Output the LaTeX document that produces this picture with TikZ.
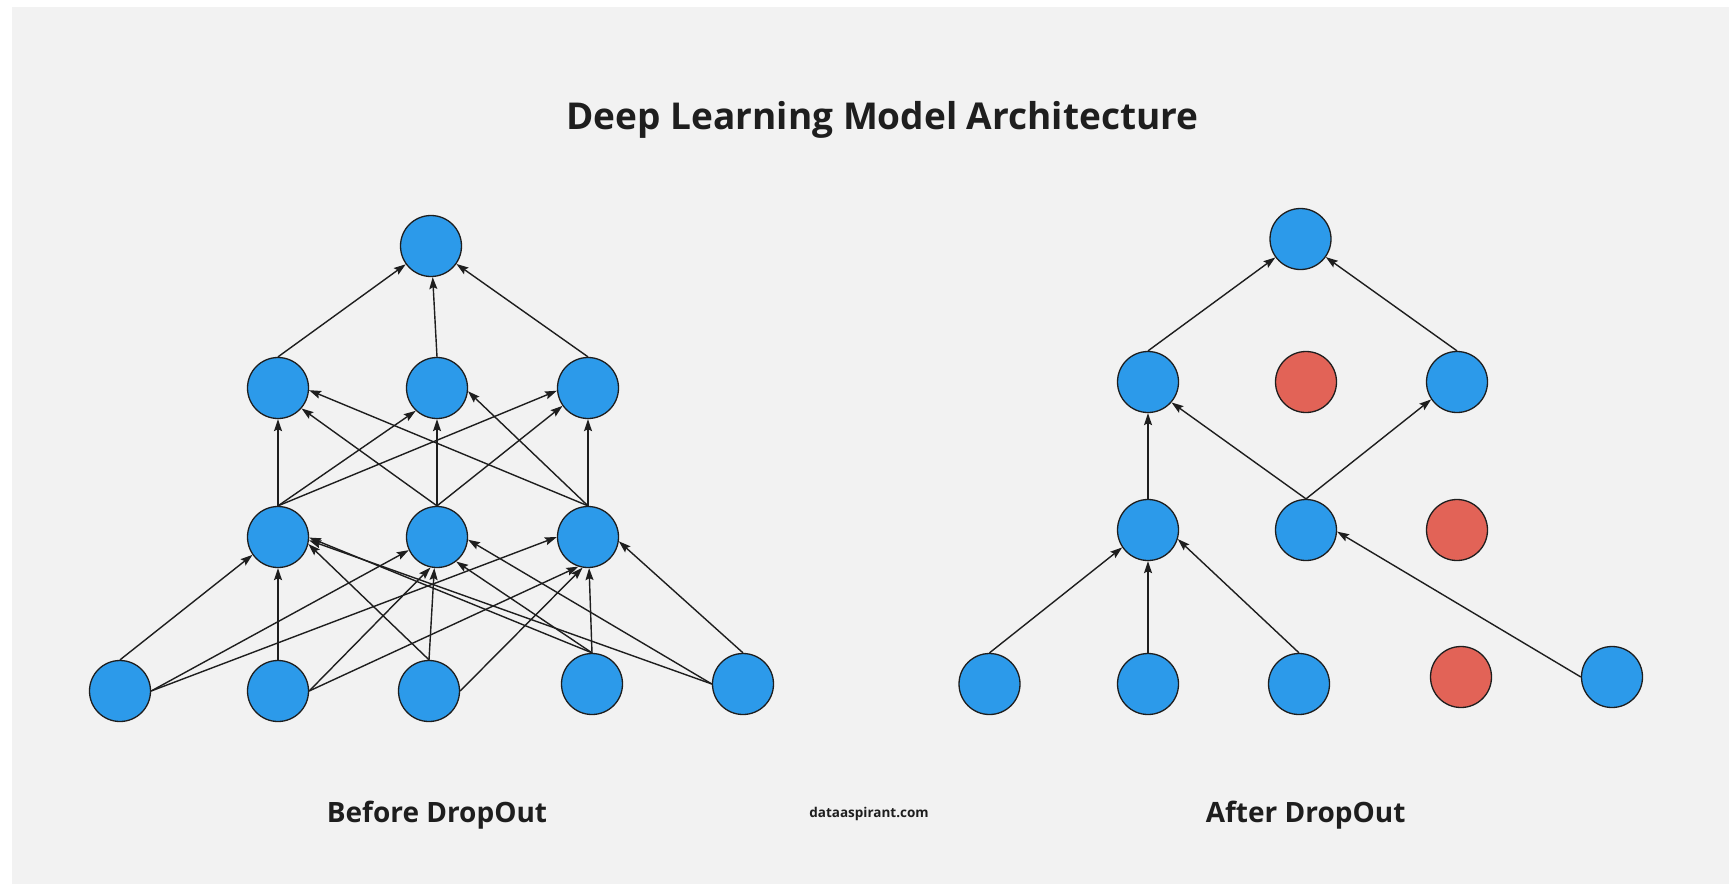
\documentclass[tikz,border=0pt]{standalone}
\usepackage{fontspec}
\setmainfont{Open Sans}
\usetikzlibrary{arrows.meta}
\definecolor{bg}{HTML}{F2F2F2}
\definecolor{nblue}{HTML}{2C9AEA}
\definecolor{nred}{HTML}{E26357}
\definecolor{ink}{HTML}{1E1E1E}
\begin{document}
\begin{tikzpicture}[x=1pt,y=-1pt,
  neuron/.style={circle, draw=ink, line width=1.3pt, fill=nblue, minimum size=61pt, inner sep=0pt},
  dropped/.style={neuron, fill=nred},
  conn/.style={draw=ink, line width=1.4pt, -{Stealth[length=12pt,width=8pt,inset=2pt]}},
  lbl/.style={font=\bfseries\fontsize{28}{32}\selectfont, text=ink, anchor=base}]
\useasboundingbox (0,0) rectangle (1729,884);
\fill[white] (0,0) rectangle (1729,884);
\fill[bg] (12,7) rectangle (1729,884);

\node[font=\bfseries\fontsize{37}{44}\selectfont, text=ink, anchor=base] (title) at (882.5,129) {Deep Learning Model Architecture};

% ---- Before dropout ----
\node[neuron] (T)  at (431,246) {};
\node[neuron] (H1) at (278,388) {};
\node[neuron] (H2) at (437,388) {};
\node[neuron] (H3) at (588,388) {};
\node[neuron] (M1) at (278,537) {};
\node[neuron] (M2) at (437,537) {};
\node[neuron] (M3) at (588,537) {};
\node[neuron] (B1) at (120,691) {};
\node[neuron] (B2) at (278,691) {};
\node[neuron] (B3) at (429,691) {};
\node[neuron] (B4) at (592,684) {};
\node[neuron] (B5) at (743,684) {};

\draw[conn] (H1.north) -- (T);
\draw[conn] (H2.north) -- (T);
\draw[conn] (H3.north) -- (T);

\draw[conn] (M1.north) -- (H1.south);
\draw[conn] (M1.north) -- (H2.227);
\draw[conn] (M1.north) -- (H3.185);
\draw[conn] (M2.north) -- (H1.-41);
\draw[conn] (M2.north) -- (H2.south);
\draw[conn] (M2.north) -- (H3.215);
\draw[conn] (M3.north) -- (H1.-4);
\draw[conn] (M3.north) -- (H2.-6);
\draw[conn] (M3.north) -- (H3.south);

\draw[conn] (B1.north) -- (M1.215);
\draw[conn] (B1.east) -- (M2.205);
\draw[conn] (B1.east) -- (M3.180);
\draw[conn] (B2.north) -- (M1.south);
\draw[conn] (B2.east) -- (M2.258);
\draw[conn] (B2.east) -- (M3.252);
\draw[conn] (B3.north) -- (M1.-13);
\draw[conn] (B3.north) -- (M2.265);
\draw[conn] (B3.east) -- (M3.260);
\draw[conn] (B4.north) -- (M1.-1);
\draw[conn] (B4.north) -- (M2.-52);
\draw[conn] (B4.north) -- (M3.-88);
\draw[conn] (B5.west) -- (M1.-6);
\draw[conn] (B5.west) -- (M2.-5);
\draw[conn] (B5.north) -- (M3.-8);

% ---- After dropout ----
\node[neuron]  (RT)  at (1300.5,239) {};
\node[neuron]  (RH1) at (1148,382) {};
\node[dropped] (RH2) at (1306,382) {};
\node[neuron]  (RH3) at (1457,382) {};
\node[neuron]  (RM1) at (1148,530) {};
\node[neuron]  (RM2) at (1306,530) {};
\node[dropped] (RM3) at (1457,530) {};
\node[neuron]  (RB1) at (989.5,684) {};
\node[neuron]  (RB2) at (1148,684) {};
\node[neuron]  (RB3) at (1299,684) {};
\node[dropped] (RB4) at (1461,677) {};
\node[neuron]  (RB5) at (1612,677) {};

\draw[conn] (RH1.north) -- (RT);
\draw[conn] (RH3.north) -- (RT);
\draw[conn] (RM1.north) -- (RH1.south);
\draw[conn] (RM2.north) -- (RH1.-41);
\draw[conn] (RM2.north) -- (RH3.214);
\draw[conn] (RB1.north) -- (RM1.214);
\draw[conn] (RB2.north) -- (RM1.south);
\draw[conn] (RB3.north) -- (RM1.-17);
\draw[conn] (RB5.west) -- (RM2.-3);

\node[lbl] (before) at (437,822.7) {Before DropOut};
\node[lbl] (after) at (1305.6,822.7) {After DropOut};
\node[font=\bfseries\fontsize{13.5}{16}\selectfont, text=ink, anchor=base] (site) at (869,817.3) {dataaspirant.com};
\end{tikzpicture}
\end{document}
